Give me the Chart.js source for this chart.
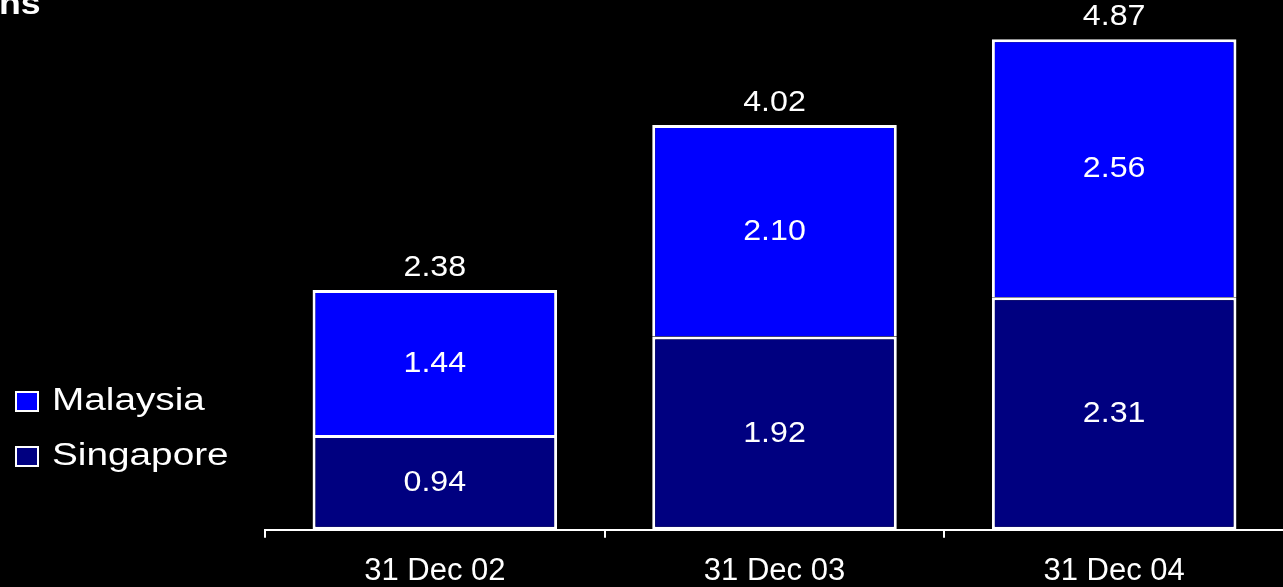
<!DOCTYPE html>
<html>
<head>
<meta charset="utf-8">
<script src="https://cdn.jsdelivr.net/npm/chart.js@4/dist/chart.umd.min.js"></script>
<style>
  html, body { margin: 0; padding: 0; background: #000; overflow: hidden; }
  #wrap { position: absolute; left: 0; top: 0; width: 1283px; height: 587px; overflow: hidden; }
</style>
</head>
<body>
<div id="wrap"><canvas id="chart" width="1290" height="605"></canvas></div>
<script>
// data
const categories = ['31 Dec 02', '31 Dec 03', '31 Dec 04'];
const singapore = [0.94, 1.92, 2.31];
const malaysia = [1.44, 2.10, 2.56];
const totals = [2.38, 4.02, 4.87];
const titleTail = 'ns';

const FONT = '"Liberation Sans", Arial, sans-serif';

// text in the original looks a bit wider than Arial, so stretch it sideways
function stretchText(ctx, txt, x, y, sx, align) {
  ctx.save();
  ctx.translate(x, y);
  ctx.scale(sx, 1);
  ctx.textAlign = align || 'center';
  ctx.fillText(txt, 0, 0);
  ctx.restore();
}

const labelsPlugin = {
  id: 'labels',
  afterDatasetsDraw(chart) {
    const ctx = chart.ctx;
    ctx.save();
    ctx.fillStyle = '#fff';
    ctx.textBaseline = 'middle';
    ctx.font = '29px ' + FONT;
    chart.data.datasets.forEach((ds, di) => {
      chart.getDatasetMeta(di).data.forEach((el, i) => {
        stretchText(ctx, ds.data[i].toFixed(2), el.x, (el.y + el.base) / 2 + 1, 1.11);
      });
    });
    // totals above the stack
    const top = chart.getDatasetMeta(1).data;
    top.forEach((el, i) => {
      stretchText(ctx, totals[i].toFixed(2), el.x, el.y - 22, 1.11);
    });
    ctx.restore();
  }
};

const legendPlugin = {
  id: 'sideLegend',
  afterDraw(chart) {
    const ctx = chart.ctx;
    ctx.save();
    const items = [
      { ds: chart.data.datasets[1], y: 401 },
      { ds: chart.data.datasets[0], y: 456 }
    ];
    items.forEach(it => {
      ctx.fillStyle = it.ds.backgroundColor;
      ctx.fillRect(16, it.y - 9, 22, 19);
      ctx.strokeStyle = '#fff';
      ctx.lineWidth = 2;
      ctx.strokeRect(16, it.y - 9, 22, 19);
      ctx.fillStyle = '#fff';
      ctx.font = '31px ' + FONT;
      ctx.textBaseline = 'middle';
      stretchText(ctx, it.ds.label, 52, it.y, 1.25, 'left');
    });
    // cut-off title at top left
    ctx.font = 'bold 31px ' + FONT;
    ctx.textBaseline = 'alphabetic';
    stretchText(ctx, titleTail, -1, 14, 1.15, 'left');
    ctx.restore();
  }
};

new Chart(document.getElementById('chart'), {
  type: 'bar',
  data: {
    labels: categories,
    datasets: [
      {
        label: 'Singapore',
        data: singapore,
        backgroundColor: '#000080',
        borderColor: '#ffffff',
        borderWidth: 3,
        borderSkipped: false
      },
      {
        label: 'Malaysia',
        data: malaysia,
        backgroundColor: '#0000ff',
        borderColor: '#ffffff',
        borderWidth: 3,
        borderSkipped: 'bottom'
      }
    ]
  },
  options: {
    responsive: false,
    animation: false,
    devicePixelRatio: 1,
    layout: { padding: { left: 265, right: 6, top: 0, bottom: 0 } },
    datasets: { bar: { categoryPercentage: 1, barPercentage: 0.72 } },
    plugins: {
      legend: { display: false },
      tooltip: { enabled: false }
    },
    scales: {
      x: {
        stacked: true,
        grid: { drawOnChartArea: false, drawTicks: true, tickLength: 8, color: '#fff', lineWidth: 2 },
        border: { color: '#fff', width: 2 },
        ticks: { color: '#fff', font: { size: 31, family: FONT }, padding: 15 }
      },
      y: {
        stacked: true,
        display: false,
        min: 0,
        max: 5.26
      }
    }
  },
  plugins: [labelsPlugin, legendPlugin]
});
</script>
</body>
</html>
